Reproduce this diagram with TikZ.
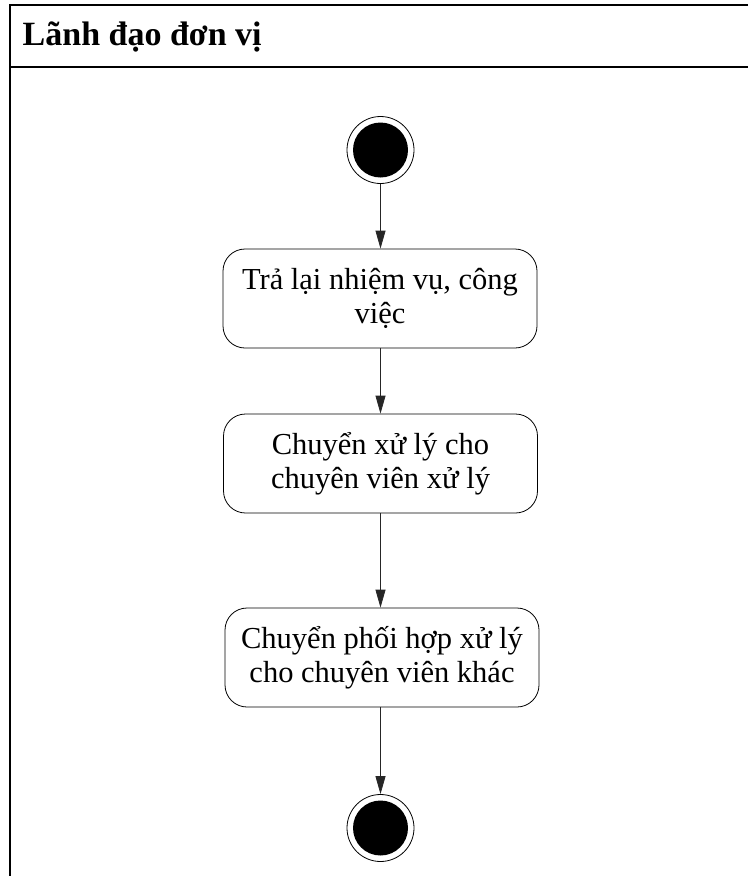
\documentclass[tikz,border=0pt]{standalone}
\usepackage{fontspec}
\setmainfont{Liberation Serif}
\usetikzlibrary{arrows.meta}

\tikzset{
  lane/.style={line width=1.1pt, draw=black},
  action/.style={draw=black, line width=0.8pt, rounded corners=22pt,
    minimum width=314pt, minimum height=99pt, inner sep=0pt,
    align=center, font=\fontsize{30.5}{33.5}\selectfont},
  ring/.style={circle, draw=black, line width=0.8pt, minimum size=67pt, inner sep=0pt},
  dot/.style={circle, fill=black, minimum size=55pt, inner sep=0pt},
  flow/.style={draw=black!85, line width=0.8pt, -{Triangle[length=18pt,width=10pt]}},
}

\begin{document}
\begin{tikzpicture}[x=1pt, y=-1pt]
  \useasboundingbox (0,0) rectangle (748,876);

  % swimlane frame and header band
  \coordinate (tl) at (10,5);
  \coordinate (tr) at (748,5);
  \coordinate (bl) at (10,876);
  \coordinate (hl) at (10,67);
  \coordinate (hr) at (748,67);
  \draw[lane] (tr) -- (tl) -- (bl);
  \draw[lane] (hl) -- (hr);
  \node[anchor=base west, inner sep=0pt, font=\fontsize{34}{39}\selectfont\bfseries]
    (lanetitle) at (22.5,45) {Lãnh đạo đơn vị};

  % initial node
  \node[ring] (start) at (380.5,150) {};
  \node[dot] (startdot) at (start.center) {};

  % actions
  \node[action] (a1) at (380,298.5) {Trả lại nhiệm vụ, công\\việc};
  \node[action] (a2) at (380.5,463.5) {Chuyển xử lý cho\\chuyên viên xử lý};
  \node[action] (a3) at (382,657.5) {Chuyển phối hợp xử lý\\cho chuyên viên khác};

  % final node
  \node[ring] (finish) at (380.5,828) {};
  \node[dot] (finishdot) at (finish.center) {};

  % control flow
  \draw[flow] (start.south) -- (a1.north -| start.south);
  \draw[flow] (a1.south -| start.south) -- (a2.north -| start.south);
  \draw[flow] (a2.south -| start.south) -- (a3.north -| start.south);
  \draw[flow] (a3.south -| start.south) -- (finish.north);
\end{tikzpicture}
\end{document}
